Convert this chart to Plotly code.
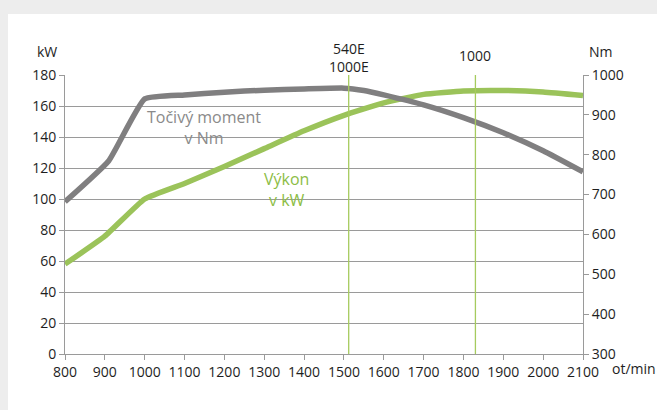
import plotly.graph_objects as go

rpm = [800, 900, 1000, 1100, 1200, 1300, 1400, 1500, 1600, 1700, 1800, 1900, 2000, 2100]
power_kw = [58, 76, 100, 110, 121, 132.5, 144, 154, 162, 167.5, 169.7, 170, 169, 166.7]
torque_rpm = [800, 910, 1000, 1100, 1200, 1300, 1400, 1500, 1550, 1600, 1700, 1800, 1900, 2000, 2100]
torque_nm = [682, 785, 940, 950, 957, 962, 965, 967, 961, 950, 925, 893, 855, 810, 757]
marker_rpm = [1512, 1830]
marker_labels = ["540E<br>1000E", "1000"]

FONT = "Open Sans"
TXT = "#1e1e1e"
GRAY = "#807f80"
GREEN = "#9bc35a"
GRID = "#9a9a9a"

L, T, PW, PH = 65, 75, 518, 279


def px(xw):
    return (xw - L) / PW


def py(yw):
    return (T + PH - yw) / PH


fig = go.Figure()
fig.add_trace(go.Scatter(x=torque_rpm, y=torque_nm, yaxis="y2", mode="lines",
                         line=dict(color=GRAY, width=5.5, shape="spline", smoothing=0.4),
                         hoverinfo="skip"))
fig.add_trace(go.Scatter(x=rpm, y=power_kw, mode="lines",
                         line=dict(color=GREEN, width=5.5, shape="spline", smoothing=0.4),
                         hoverinfo="skip"))

shapes = [dict(type="rect", xref="paper", yref="paper", x0=px(8), x1=1.3,
               y0=-0.4, y1=py(14), fillcolor="white", line=dict(width=0), layer="below")]
for xv in marker_rpm:
    shapes.append(dict(type="line", xref="x", yref="paper", x0=xv, x1=xv, y0=0, y1=1,
                       line=dict(color="#a6cb5e", width=1.3), layer="above"))

common = dict(showarrow=False, xanchor="center", yanchor="middle")
annotations = [
    dict(text="kW", xref="paper", yref="paper", x=px(47), y=py(51),
         font=dict(size=14, color=TXT, family=FONT), **common),
    dict(text="Nm", xref="paper", yref="paper", x=px(601), y=py(51),
         font=dict(size=14, color=TXT, family=FONT), **common),
    dict(text="ot/min", xref="paper", yref="paper", x=px(634), y=py(368),
         font=dict(size=14, color=TXT, family=FONT), **common),
    dict(text=marker_labels[0], xref="x", yref="paper", x=marker_rpm[0], y=py(57),
         font=dict(size=14, color=TXT, family=FONT), **common),
    dict(text=marker_labels[1], xref="x", yref="paper", x=marker_rpm[1], y=py(56),
         font=dict(size=14, color=TXT, family=FONT), **common),
    dict(text="Točivý moment<br>v Nm", xref="x", yref="y", x=1149, y=146,
         font=dict(size=16, color="#8a8a8a", family=FONT), **common),
    dict(text="Výkon<br>v kW", xref="x", yref="y", x=1357, y=106,
         font=dict(size=16, color="#8cbd45", family=FONT), **common),
]

fig.update_layout(
    width=657, height=410,
    margin=dict(l=L, r=657 - L - PW, t=T, b=410 - T - PH),
    paper_bgcolor="#ededed", plot_bgcolor="white",
    showlegend=False,
    font=dict(family=FONT, size=14, color=TXT),
    xaxis=dict(range=[800, 2100], dtick=100, tick0=800, showgrid=False, zeroline=False,
               showline=True, linecolor=GRID, linewidth=1, ticks="outside", ticklen=5,
               tickcolor=GRID, tickfont=dict(size=14, color=TXT, family=FONT)),
    yaxis=dict(range=[0, 180], dtick=20, showgrid=True, gridcolor=GRID, gridwidth=1,
               zeroline=False, showline=True, linecolor=GRID, linewidth=1,
               ticks="outside", ticklen=5, tickcolor=GRID,
               tickfont=dict(size=14, color=TXT, family=FONT)),
    yaxis2=dict(range=[300, 1000], dtick=100, overlaying="y", side="right", showgrid=False,
                zeroline=False, showline=True, linecolor=GRID, linewidth=1,
                ticks="outside", ticklen=5, tickcolor=GRID,
                tickfont=dict(size=14, color=TXT, family=FONT)),
    shapes=shapes, annotations=annotations,
)

fig.write_html("out.html",
               config={"displayModeBar": False},
               post_script="document.body.style.margin='0';"
                           "document.body.style.overflow='hidden';"
                           "document.body.style.background='#ededed';")
